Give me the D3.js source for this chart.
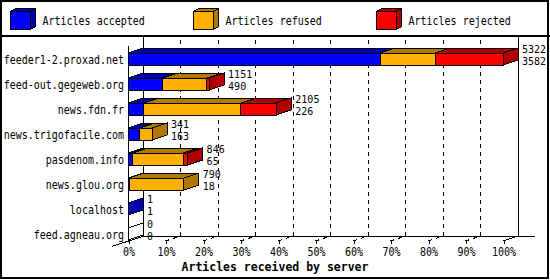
<!DOCTYPE html>
<html lang="en">
<head>
<meta charset="UTF-8">
<title>Articles received by server</title>
<script src="https://d3js.org/d3.v7.min.js"></script>
<style>
  body { margin: 0; background: #fff; }
  svg { display: block; }
  text { font-family: "DejaVu Sans Mono", monospace; font-size: 10px; fill: #000; }
  .title { font-weight: bold; font-size: 11.5px; }
</style>
</head>
<body>
<div id="chart"></div>
<script>
// data
const servers = ["feeder1-2.proxad.net", "feed-out.gegeweb.org", "news.fdn.fr",
                 "news.trigofacile.com", "pasdenom.info", "news.glou.org",
                 "localhost", "feed.agneau.org"];
const accepted = [3582, 490, 226, 163, 65, 18, 1, 0];
const refused  = [780, 630, 1374, 178, 719, 772, 0, 0];
const rejected = [960, 31, 505, 0, 62, 0, 0, 0];
const totals   = [5322, 1151, 2105, 341, 846, 790, 1, 0];
const seriesNames = ["Articles accepted", "Articles refused", "Articles rejected"];
const tickPercents = [0, 10, 20, 30, 40, 50, 60, 70, 80, 90, 100];

const light = ["#0000ff", "#ffb000", "#ff0000"];
const dark  = ["#0000b0", "#b07800", "#b00000"];

const W = 550, H = 280;
const DX = 15, DY = -5;          // 3d depth offset
const frontBottom = 241, backTop = 36;

const svg = d3.select("#chart").append("svg")
    .attr("width", W).attr("height", H)
    .attr("shape-rendering", "crispEdges");

// tall bitmap-ish text
function label(g, x, y, str, anchor, sy) {
  return g.append("text")
      .attr("transform", `translate(${x},${y}) scale(1,${sy || 1.15})`)
      .attr("text-anchor", anchor || "start")
      .text(str);
}

// frame and legend separator
svg.append("rect").attr("x", 1).attr("y", 1).attr("width", W - 3).attr("height", H - 3)
    .attr("fill", "white").attr("stroke", "black").attr("stroke-width", 2);
svg.append("line").attr("x1", 0).attr("x2", W).attr("y1", 35.5).attr("y2", 35.5)
    .attr("stroke", "black").attr("stroke-width", 2);

// legend
const leg = svg.append("g").selectAll("g").data(seriesNames).join("g")
    .attr("transform", (d, i) => `translate(${10.5 + i * 183},11.5)`);
leg.append("polygon")
    .attr("points", "0,0 5,-3 25,-3 25,15 20,18 20,0")
    .attr("fill", (d, i) => dark[i]).attr("stroke", "black");
leg.append("rect").attr("width", 20).attr("height", 18)
    .attr("fill", (d, i) => light[i]).attr("stroke", "black");
leg.append("polyline").attr("points", "20,0 25,-3").attr("stroke", "black");
leg.each(function(d) { label(d3.select(this), 32, 13.5, d); });

// scales
const x = d3.scaleLinear().domain([0, 100]).range([128, 503]);
const y = d3.scaleBand().domain(servers).range([frontBottom - 200, frontBottom]);
const maxTotal = d3.max(totals);
const px = v => x(v / maxTotal * 100);

// back wall grid (dashed), running over the floor then up the wall
const grid = svg.append("g").attr("fill", "none").attr("stroke", "black");
grid.selectAll("path").data(tickPercents.slice(1, -1)).join("path")
    .attr("stroke-dasharray", "4,4")
    .attr("d", d => `M${x(d)},${frontBottom}L${x(d) + DX},${frontBottom + DY}L${x(d) + DX},${backTop}`);

// walls and floor edges
grid.append("path").attr("d",
    `M${x(0) + DX + 0.5},${backTop}V${frontBottom + DY + 0.5}H535`);
grid.append("path").attr("d",
    `M${x(100) + DX + 0.5},${backTop}V${frontBottom + DY + 0.5}`);
grid.append("path").attr("d",
    `M${x(0) - 16},${frontBottom + 5.3}L${x(0) + DX},${frontBottom + DY + 0.5}`);
grid.append("path").attr("d",
    `M${x(100)},${frontBottom}L${x(100) + DX},${frontBottom + DY}`);
grid.append("path").attr("d", `M${x(0) + 0.5},46V${frontBottom}`);

// x axis ticks + labels
const axis = svg.append("g").attr("transform", `translate(0.5,${frontBottom})`)
    .call(d3.axisBottom(x).tickValues(tickPercents).tickFormat(d => d + "%").tickSize(3));
axis.select(".domain").remove();
axis.attr("font-family", null).attr("font-size", null);
axis.selectAll(".tick text").attr("y", 6).attr("transform", "scale(1,1.15)");

svg.append("text").attr("class", "title")
    .attr("x", W / 2).attr("y", 270.5).attr("text-anchor", "middle")
    .text("Articles received by server");

// bars
const rows = servers.map((s, i) => {
  const vals = [accepted[i], refused[i], rejected[i]];
  let cum = 0;
  const segs = vals.map((v, j) => { const s0 = cum; cum += v; return {j, v, s0, s1: cum}; });
  return {name: s, segs, total: totals[i], acc: accepted[i]};
});

const bar = svg.append("g").selectAll("g").data(rows).join("g")
    .attr("transform", d => `translate(0,${y(d.name) + 12})`);

bar.each(function(d) {
  const g = d3.select(this);
  const h = 12;
  const live = d.segs.filter(s => s.v > 0);
  live.forEach(s => {
    const x0 = px(s.s0), x1 = px(s.s1);
    g.append("polygon")
        .attr("points", `${x0},0 ${x1},0 ${x1 + DX},${DY} ${x0 + DX},${DY}`)
        .attr("fill", dark[s.j]).attr("stroke", "black");
    g.append("rect").attr("x", x0).attr("y", 0).attr("width", x1 - x0).attr("height", h)
        .attr("fill", light[s.j]).attr("stroke", "black");
  });
  const xe = px(d.total);
  const endCol = live.length ? dark[live[live.length - 1].j] : "white";
  g.append("polygon")
      .attr("points", `${xe},0 ${xe + DX},${DY} ${xe + DX},${DY + h} ${xe},${h}`)
      .attr("fill", endCol).attr("stroke", "black");
  if (!live.length) {
    g.append("line").attr("x1", xe).attr("y1", 0).attr("x2", xe + DX).attr("y2", DY)
        .attr("stroke", "black");
  }
  // totals / accepted
  label(g, xe + DX + 4, 0, d.total, "start", 1);
  label(g, xe + DX + 4, 12, d.acc, "start", 1);
  // server name
  label(g, 124, 10.5, d.name, "end");
});
</script>
</body>
</html>
